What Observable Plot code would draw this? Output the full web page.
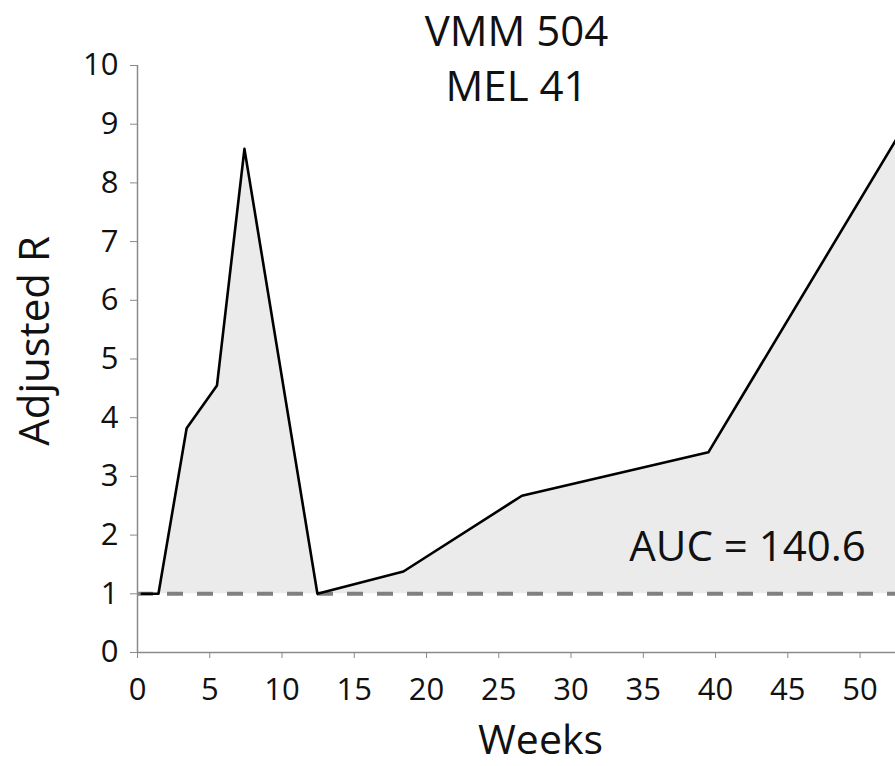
<!DOCTYPE html>
<html>
<head>
<meta charset="utf-8">
<script src="https://cdn.jsdelivr.net/npm/d3@7"></script>
<script src="https://cdn.jsdelivr.net/npm/@observablehq/plot@0.6"></script>
<style>
  html, body { margin: 0; padding: 0; background: #fff; }
  #chart svg { display: block; }
</style>
</head>
<body>
<div id="chart"></div>
<script>
// Data
const weeks    = [0.3, 1.45, 3.4, 5.5, 7.4, 12.45, 18.4, 26.6, 39.5, 52.45];
const adjR     = [1.0, 1.0, 3.82, 4.55, 8.58, 1.0, 1.38, 2.67, 3.41, 8.72];
const baseline = 1;
const xTicks   = [0, 5, 10, 15, 20, 25, 30, 35, 40, 45, 50];
const yTicks   = [0, 1, 2, 3, 4, 5, 6, 7, 8, 9, 10];
const titleLines = ["VMM 504", "MEL 41"];
const aucLabel = "AUC = 140.6";
const aucPos   = {x: 50.4, y: 1.79};
const xLabel   = "Weeks";
const yLabel   = "Adjusted R";

const data = weeks.map((w, i) => ({week: w, r: adjR[i]}));
const font = "'Open Sans', sans-serif";
const axisGray = "#8a8a8a";

const chart = Plot.plot({
  width: 895,
  height: 766,
  marginLeft: 137,
  marginRight: 0,
  marginTop: 65,
  marginBottom: 114,
  style: {fontFamily: font, background: "#fff", color: "#111"},
  x: {domain: [0, 52.45]},
  y: {domain: [0, 10]},
  marks: [
    Plot.areaY(data, {x: "week", y1: baseline, y2: "r", fill: "#ebebeb"}),
    Plot.ruleY([baseline], {stroke: "#808080", strokeWidth: 4, strokeDasharray: "16,14"}),
    Plot.lineY(data, {x: "week", y: "r", stroke: "#000", strokeWidth: 2.6}),
    Plot.ruleX([0], {stroke: axisGray, strokeWidth: 1.5}),
    Plot.ruleY([0], {stroke: axisGray, strokeWidth: 1.5}),
    Plot.axisX({ticks: xTicks, tickSize: 6, tickPadding: 19, fontSize: 31, stroke: axisGray, fill: "#111", label: null, tickFormat: d => String(d)}),
    Plot.axisY({ticks: yTicks, tickSize: 7, tickPadding: 12, fontSize: 31, stroke: axisGray, fill: "#111", label: null, tickFormat: d => String(d)}),
    Plot.text([titleLines.join("\n")], {frameAnchor: "top", lineAnchor: "top", dy: -58, fontSize: 42, lineHeight: 1.3, fill: "#111"}),
    Plot.text([aucLabel], {x: () => aucPos.x, y: () => aucPos.y, textAnchor: "end", fontSize: 42, fill: "#111"}),
    Plot.text([xLabel], {frameAnchor: "bottom", dy: 101, dx: 24, fontSize: 41, fill: "#111"}),
    Plot.text([yLabel], {frameAnchor: "left", textAnchor: "middle", dx: -102, dy: -18, rotate: -90, fontSize: 42, fill: "#111"})
  ]
});
document.getElementById("chart").appendChild(chart);
</script>
</body>
</html>
